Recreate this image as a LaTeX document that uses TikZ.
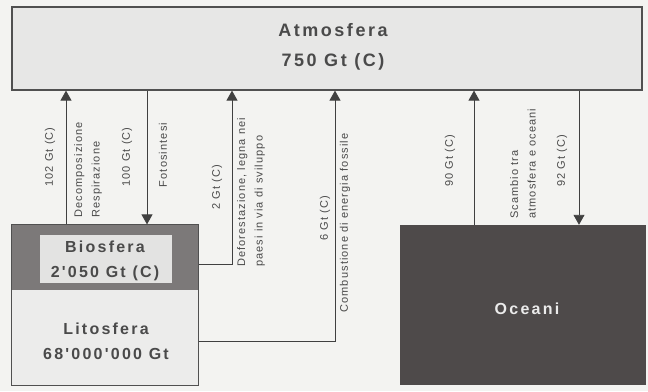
\documentclass[tikz,border=0pt]{standalone}
\usepackage{fontspec}
\setmainfont{Liberation Sans}
\newfontfamily\lblfont[LetterSpace=10]{Liberation Sans}
\newfontfamily\bigfont[LetterSpace=14]{Liberation Sans}
\usetikzlibrary{arrows.meta}
\definecolor{bgc}{HTML}{F3F3F1}
\definecolor{atmc}{HTML}{E7E7E6}
\definecolor{edgec}{HTML}{505050}
\definecolor{bandc}{HTML}{7C7979}
\definecolor{innerc}{HTML}{E3E3E2}
\definecolor{litoc}{HTML}{ECECEB}
\definecolor{oceanc}{HTML}{4E4A4A}
\definecolor{txtc}{HTML}{4A4A4A}
\tikzset{
  box/.style={draw=edgec, line width=1.2pt, inner sep=0pt},
  bigtxt/.style={font=\bigfont\bfseries\fontsize{16}{25}\selectfont, text=txtc, align=center, inner sep=0pt},
  lbl/.style={font=\lblfont\fontsize{11}{17.5}\selectfont, text=txtc, rotate=90, inner sep=0pt, align=left},
  arr/.style={draw=edgec!80!black, line width=0.9pt, -{Triangle[length=10pt,width=11pt]}},
  ln/.style={draw=edgec!80!black, line width=0.9pt}
}
\begin{document}
\begin{tikzpicture}[x=1pt,y=-1pt]
\fill[bgc] (0,0) rectangle (648,391);
\useasboundingbox (0,0) rectangle (648,391);
% boxes
\node[box, fill=atmc, minimum width=630pt, minimum height=83pt] (atm) at (327,48.5) {};
\node[bigtxt, font=\bigfont\bfseries\fontsize{18}{30}\selectfont] (atmt) at (333,47) {Atmosfera\\750 Gt (C)};
\node[box, fill=bandc, draw=none, minimum width=186pt, minimum height=65pt] (band) at (105,257.5) {};
\node[fill=innerc, inner sep=0pt, minimum width=132pt, minimum height=48pt] (bio) at (106,259) {};
\node[bigtxt] (biot) at (105,260.5) {Biosfera\\2'050 Gt (C)};
\node[box, fill=litoc, draw=none, minimum width=186pt, minimum height=95pt] (lito) at (105,337.5) {};
\node[bigtxt] (litot) at (106,341.5) {Litosfera\\68'000'000 Gt};
\draw[edgec, line width=1.2pt] (band.north west) rectangle (lito.south east);
\node[fill=oceanc, inner sep=0pt, minimum width=246pt, minimum height=160pt] (ocean) at (523,305) {};
\node[bigtxt, text=white!92!black] (oceant) at (527,309) {Oceani};
% arrow x positions
\coordinate (x1) at (66,0);
\coordinate (x2) at (147,0);
\coordinate (x3) at (232,0);
\coordinate (x4) at (335,0);
\coordinate (x5) at (474,0);
\coordinate (x6) at (579,0);
\coordinate (y3) at (0,264);
\coordinate (y4) at (0,341);
% connectors
\draw[arr] (x1 |- band.north) -- (x1 |- atm.south);
\draw[arr] (x2 |- atm.south) -- (x2 |- band.north);
\draw[arr] (lito.east |- y3) -- (x3 |- y3) -- (x3 |- atm.south);
\draw[arr] (lito.east |- y4) -- (x4 |- y4) -- (x4 |- atm.south);
\draw[arr] (x5 |- ocean.north) -- (x5 |- atm.south);
\draw[arr] (x6 |- atm.south) -- (x6 |- ocean.north);
% labels
\node[lbl] (l1) at (50,157) {102 Gt (C)};
\node[lbl, anchor=west] (l1b) at (88,218) {Decomposizione\\Respirazione};
\node[lbl] (l2) at (127,157) {100 Gt (C)};
\node[lbl] (l2b) at (163,155) {Fotosintesi};
\node[lbl] (l3) at (217,187) {2 Gt (C)};
\node[lbl, anchor=west] (l3b) at (251,267) {Deforestazione, legna nei\\paesi in via di sviluppo};
\node[lbl] (l4) at (325,218) {6 Gt (C)};
\node[lbl] (l4b) at (345,223) {Combustione di energia fossile};
\node[lbl] (l5) at (450,161) {90 Gt (C)};
\node[lbl, anchor=west] (l5b) at (523,219) {Scambio tra\\atmosfera e oceani};
\node[lbl] (l6) at (562,161) {92 Gt (C)};
\end{tikzpicture}
\end{document}
